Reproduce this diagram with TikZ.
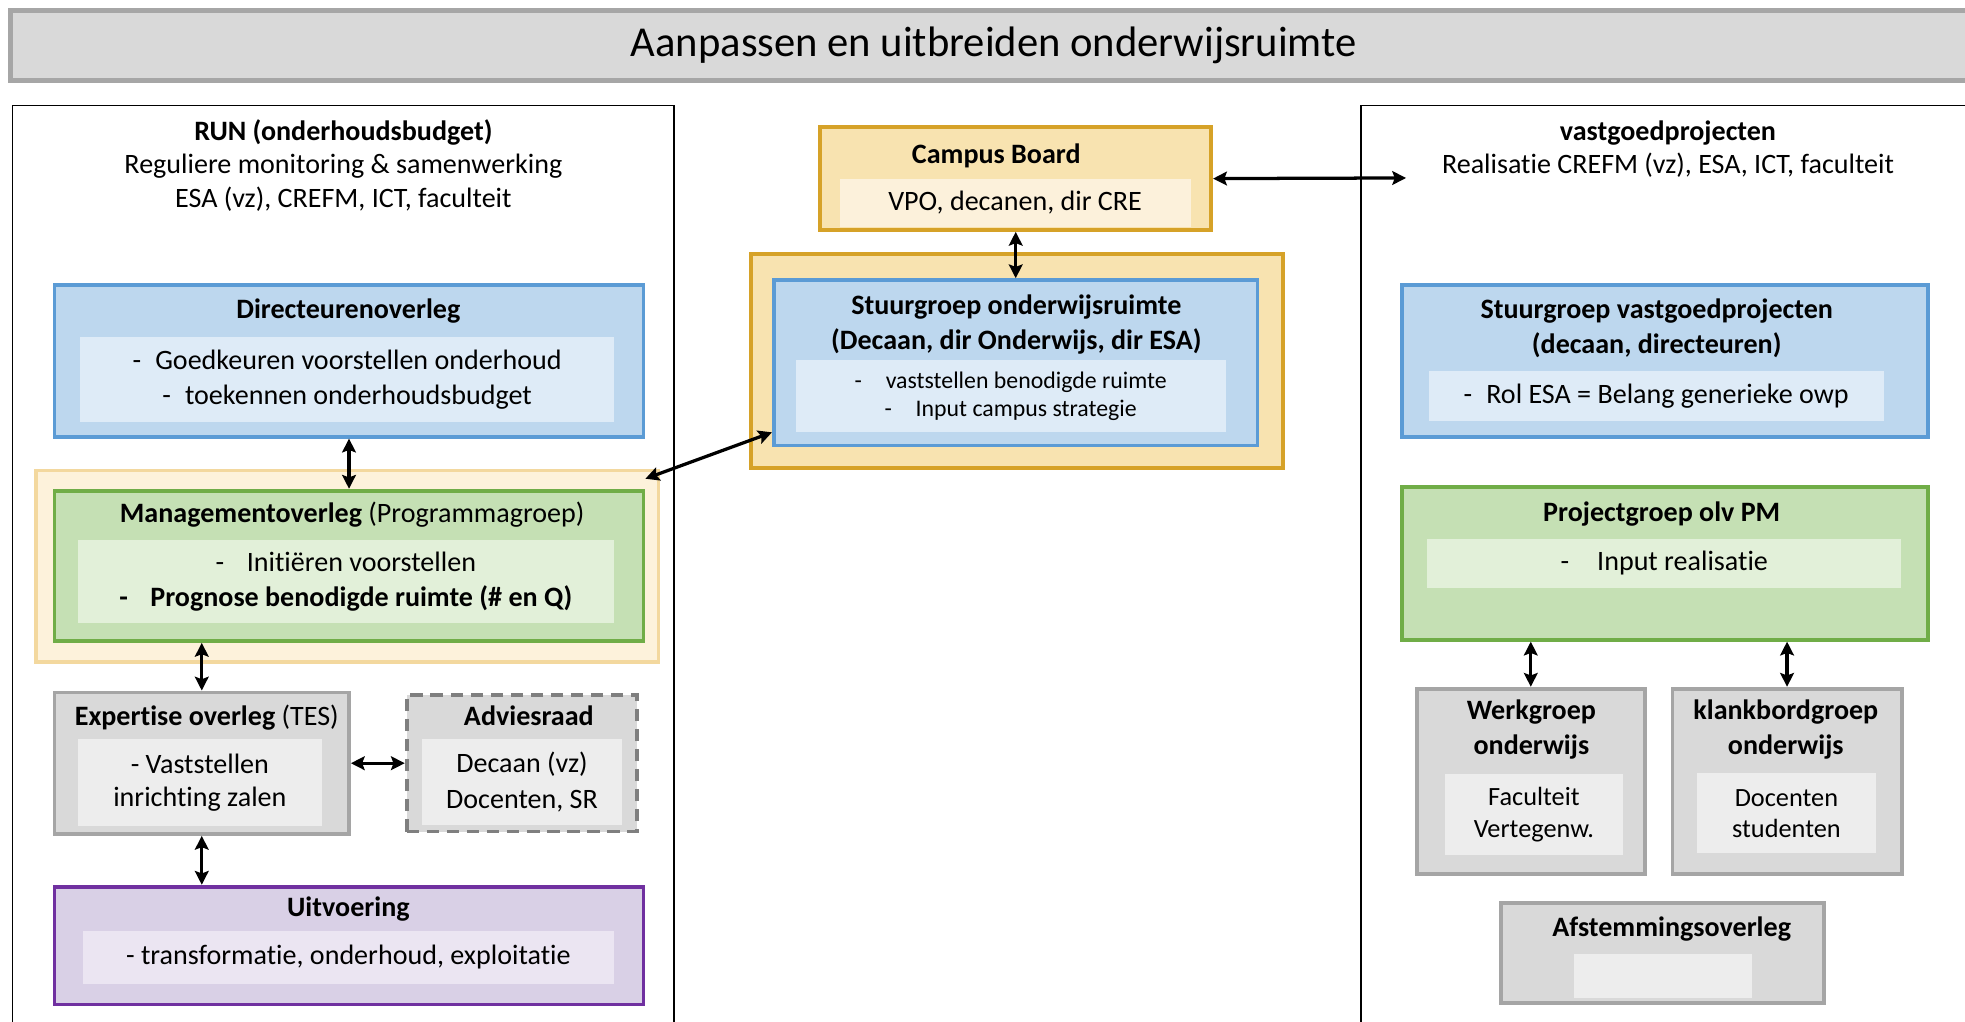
\documentclass[tikz,border=0pt]{standalone}
\usepackage{fontspec}
\setmainfont{Carlito}[Ligatures=NoCommon]
\usetikzlibrary{arrows.meta, positioning, calc}

\definecolor{bluebd}{HTML}{5B9BD5}
\definecolor{bluefl}{HTML}{BDD7EE}
\definecolor{bluein}{HTML}{DEEBF7}
\definecolor{greenbd}{HTML}{70AD47}
\definecolor{greenfl}{HTML}{C5E0B4}
\definecolor{greenin}{HTML}{E2F0D9}
\definecolor{graybd}{HTML}{A5A5A5}
\definecolor{grayfl}{HTML}{D9D9D9}
\definecolor{grayin}{HTML}{EDEDED}
\definecolor{advbd}{HTML}{7F7F7F}
\definecolor{purplebd}{HTML}{7030A0}
\definecolor{purplefl}{HTML}{D9D0E6}
\definecolor{purplein}{HTML}{EBE5F2}
\definecolor{goldbd}{HTML}{D6A228}
\definecolor{goldfl}{HTML}{F8E3B0}
\definecolor{goldin}{HTML}{FCF1DB}
\definecolor{framebd}{HTML}{F3D89E}
\definecolor{framefl}{HTML}{FDF2DB}
\definecolor{titlebd}{HTML}{A6A6A6}

\newcommand{\boxfont}{\fontsize{11.2}{14}\selectfont}
\newcommand{\smallboxfont}{\fontsize{9.5}{11}\selectfont}
\newcommand{\titlefont}{\fontsize{17}{20}\selectfont}

\tikzstyle{bluebox} = [rectangle, draw=bluebd, fill=bluefl, line width=1.5pt]
\tikzstyle{greenbox} = [rectangle, draw=greenbd, fill=greenfl, line width=1.5pt]
\tikzstyle{graybox} = [rectangle, draw=graybd, fill=grayfl, line width=1.5pt]
\tikzstyle{advbox} = [rectangle, draw=advbd, fill=grayfl, line width=1.5pt, dash pattern=on 5pt off 3pt]
\tikzstyle{purplebox} = [rectangle, draw=purplebd, fill=purplefl, line width=1.5pt]
\tikzstyle{goldbox} = [rectangle, draw=goldbd, fill=goldfl, line width=1.5pt]
\tikzstyle{frame} = [rectangle, draw=framebd, fill=framefl, line width=1.5pt]
\tikzstyle{inner} = [rectangle, inner sep=0pt, align=center, font=\boxfont]
\tikzstyle{heading} = [inner sep=0pt, align=center, font=\boxfont\bfseries]
\tikzstyle{panel} = [draw=black, line width=0.6pt]
\tikzstyle{link} = [line width=1.3pt, <->, >={Stealth[length=5.5pt,width=5.5pt,inset=1pt]}]

\begin{document}
\begin{tikzpicture}[x=0.5pt, y=0.5pt]

	\useasboundingbox (0,0) rectangle (1568,-815);

	% Title bar
	\fill[grayfl] (8,-8) rectangle (1600,-64);
	\draw[titlebd, line width=2pt] (1600,-8) -- (8,-8) -- (8,-64) -- (1600,-64);
	\node (title) [inner sep=0pt, font=\titlefont] at (793,-36) {Aanpassen en uitbreiden onderwijsruimte};

	% Panels
	\draw[panel] (10,-840) -- (10,-84) -- (538,-84) -- (538,-840);
	\draw[panel] (1086,-840) -- (1086,-84) -- (1600,-84);
	\node (run_head) [inner, font=\fontsize{11.2}{13.5}\selectfont] at (274,-132) {\textbf{RUN (onderhoudsbudget)}\\Reguliere monitoring \& samenwerking\\ESA (vz), CREFM, ICT, faculteit};
	\node (vast_head) [inner, font=\fontsize{11.2}{13.5}\selectfont] at (1331,-119) {\textbf{vastgoedprojecten}\\Realisatie CREFM (vz), ESA, ICT, faculteit};

	% RUN
	\node (dir_overleg) [bluebox, minimum width=235pt, minimum height=60.5pt] at (278.5,-288) {};
	\node (dir_title) [heading] at (278,-248) {Directeurenoverleg};
	\node (dir_list) [inner, fill=bluein, minimum width=213pt, minimum height=34pt] at (277,-303) {-\hspace{0.5em}Goedkeuren voorstellen onderhoud\\-\hspace{0.5em}toekennen onderhoudsbudget};

	\node (mgmt_frame) [frame, minimum width=248.5pt, minimum height=76.5pt] at (277,-452) {};
	\node (mgmt) [greenbox, minimum width=235pt, minimum height=60pt] at (278.5,-451.5) {};
	\node (mgmt_title) [inner] at (281,-411) {\textbf{Managementoverleg} (Programmagroep)};
	\node (mgmt_list) [inner, fill=greenin, minimum width=214pt, minimum height=33pt] at (276,-464) {-\hspace{0.8em}Initiëren voorstellen\\\textbf{-\hspace{0.8em}Prognose benodigde ruimte (\# en Q)}};

	\node (expert) [graybox, minimum width=117.5pt, minimum height=56.5pt] at (161,-609) {};
	\node (expert_title) [inner] at (165,-573) {\textbf{Expertise overleg} (TES)};
	\node (expert_list) [inner, fill=grayin, font=\fontsize{11.2}{13.5}\selectfont, minimum width=97.5pt, minimum height=34.5pt] at (159.5,-624.5) {- Vaststellen\\inrichting zalen};

	\node (advies) [advbox, minimum width=92pt, minimum height=54.5pt] at (416.5,-609) {};
	\node (advies_title) [heading] at (422,-571) {Adviesraad};
	\node (advies_list) [inner, fill=grayin, minimum width=79.5pt, minimum height=34pt] at (416.5,-624) {Decaan (vz)\\Docenten, SR};

	\node (uitv) [purplebox, minimum width=235pt, minimum height=47pt] at (278.5,-754.5) {};
	\node (uitv_title) [heading] at (278,-725) {Uitvoering};
	\node (uitv_list) [inner, fill=purplein, minimum width=212pt, minimum height=21pt] at (278,-764) {- transformatie, onderhoud, exploitatie};

	% Centre
	\node (campus) [goldbox, minimum width=156pt, minimum height=41pt] at (810.5,-142.5) {};
	\node (campus_title) [heading] at (795,-124) {Campus Board};
	\node (campus_list) [inner, fill=goldin, minimum width=140pt, minimum height=19pt] at (810,-162) {VPO, decanen, dir CRE};

	\node (stuur_frame) [goldbox, minimum width=212pt, minimum height=85.5pt] at (811.5,-288) {};
	\node (stuur) [bluebox, minimum width=193pt, minimum height=66pt] at (810.5,-289.5) {};
	\node (stuur_title) [heading] at (811,-259) {Stuurgroep onderwijsruimte\\(Decaan, dir Onderwijs, dir ESA)};
	\node (stuur_list) [inner, fill=bluein, font=\smallboxfont, minimum width=171.5pt, minimum height=29pt] at (806.5,-316) {-\hspace{1em}vaststellen benodigde ruimte\\-\hspace{1em}Input campus strategie};

	% Vastgoedprojecten
	\node (sg_vast) [bluebox, minimum width=210pt, minimum height=60.5pt] at (1328.5,-288) {};
	\node (sg_vast_title) [heading] at (1322,-262) {Stuurgroep vastgoedprojecten\\(decaan, directeuren)};
	\node (sg_vast_list) [inner, fill=bluein, minimum width=181.5pt, minimum height=20pt] at (1321.5,-316) {-\hspace{0.5em}Rol ESA = Belang generieke owp};

	\node (proj) [greenbox, minimum width=210pt, minimum height=61pt] at (1328.5,-449.5) {};
	\node (proj_title) [heading] at (1326,-410) {Projectgroep olv PM};
	\node (proj_list) [inner, fill=greenin, minimum width=189pt, minimum height=19.5pt] at (1328,-449.5) {-\hspace{1em}Input realisatie};

	\node (werk) [graybox, minimum width=91pt, minimum height=74pt] at (1221.5,-623.5) {};
	\node (werk_title) [heading] at (1222,-582) {Werkgroep\\onderwijs};
	\node (werk_list) [inner, fill=grayin, font=\fontsize{10.5}{12.5}\selectfont, minimum width=71pt, minimum height=32pt] at (1224,-650) {Faculteit\\Vertegenw.};

	\node (klank) [graybox, minimum width=91.5pt, minimum height=74pt] at (1426,-623.5) {};
	\node (klank_title) [heading] at (1425,-582) {klankbordgroep\\onderwijs};
	\node (klank_list) [inner, fill=grayin, font=\fontsize{10.5}{12.5}\selectfont, minimum width=71.5pt, minimum height=32pt] at (1425.5,-649) {Docenten\\studenten};

	\node (afstem) [graybox, minimum width=129pt, minimum height=40pt] at (1326.5,-760.5) {};
	\node (afstem_title) [heading] at (1334,-741) {Afstemmingsoverleg};
	\node (afstem_list) [inner, fill=grayin, minimum width=71pt, minimum height=17.5pt] at (1327,-778.5) {};

	% Link ends
	\coordinate (mgmt_link) at ($(mgmt_frame.north east)+(-12,-8)$);
	\coordinate (stuur_link) at ($(stuur.south west)+(0,12)$);
	\coordinate (vast_link) at (1122,-142);

	% Arrows
	\draw[link] (dir_overleg.south) -- (mgmt.north);
	\draw[link] (expert.north |- mgmt.south) -- (expert.north);
	\draw[link] (expert.east) -- (advies.west);
	\draw[link] (expert.south) -- (expert.south |- uitv.north);
	\draw[link] (campus.south) -- (campus.south |- stuur.north);
	\draw[link] (mgmt_link) -- (stuur_link);
	\draw[link] (campus.east) -- (vast_link);
	\draw[link] (werk.north |- proj.south) -- (werk.north);
	\draw[link] (klank.north |- proj.south) -- (klank.north);

\end{tikzpicture}
\end{document}
